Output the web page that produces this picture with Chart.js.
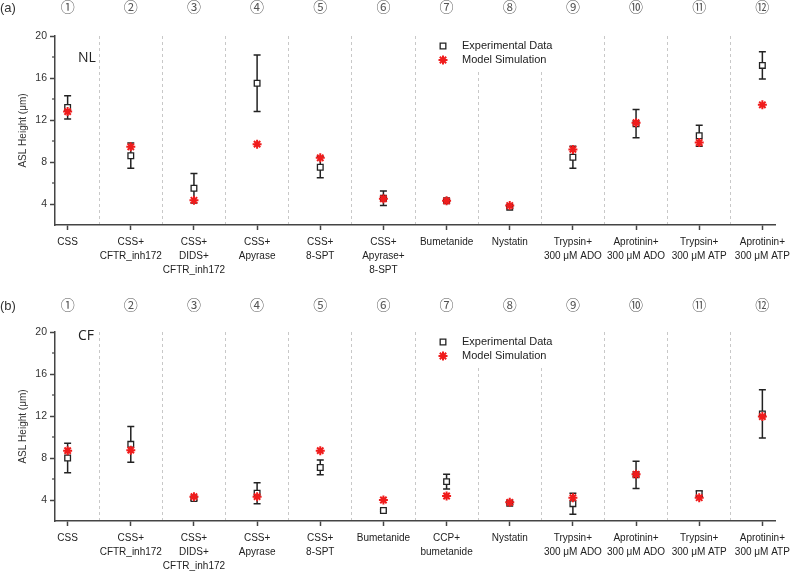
<!DOCTYPE html>
<html>
<head>
<meta charset="utf-8">
<title>ASL Height</title>
<script src="https://cdn.jsdelivr.net/npm/chart.js@4.4.0/dist/chart.umd.min.js"></script>
<style>
  html, body { margin: 0; padding: 0; background: #fff; }
  #wrap { position: relative; width: 800px; height: 575px; overflow: hidden; }
  .panel { position: absolute; left: 0; width: 800px; height: 279px; }
</style>
</head>
<body>
<div id="wrap">
  <div class="panel" style="top:0"><canvas id="chartNL" width="800" height="279"></canvas></div>
  <div class="panel" style="top:296px"><canvas id="chartCF" width="800" height="279"></canvas></div>
</div>
<script>
// 横轴类别
const labelsNL = [
  ['CSS'], ['CSS+', 'CFTR_inh172'], ['CSS+', 'DIDS+', 'CFTR_inh172'], ['CSS+', 'Apyrase'],
  ['CSS+', '8-SPT'], ['CSS+', 'Apyrase+', '8-SPT'], ['Bumetanide'], ['Nystatin'],
  ['Trypsin+', '300 μM ADO'], ['Aprotinin+', '300 μM ADO'], ['Trypsin+', '300 μM ATP'], ['Aprotinin+', '300 μM ATP']
];
const labelsCF = [
  ['CSS'], ['CSS+', 'CFTR_inh172'], ['CSS+', 'DIDS+', 'CFTR_inh172'], ['CSS+', 'Apyrase'],
  ['CSS+', '8-SPT'], ['Bumetanide'], ['CCP+', 'bumetanide'], ['Nystatin'],
  ['Trypsin+', '300 μM ADO'], ['Aprotinin+', '300 μM ADO'], ['Trypsin+', '300 μM ATP'], ['Aprotinin+', '300 μM ATP']
];
const circled = ['①', '②', '③', '④', '⑤', '⑥', '⑦', '⑧', '⑨', '⑩', '⑪', '⑫'];

// (a) NL
const expNL = [13.2, 8.6, 5.5, 15.5, 7.5, 4.55, 4.3, 3.7, 8.45, 11.65, 10.5, 17.2];
const errNL = [1.1, 1.2, 1.4, 2.7, 1.0, 0.7, 0.1, 0.1, 1.05, 1.35, 1.0, 1.3];
const simNL = [12.8, 9.45, 4.35, 9.7, 8.4, 4.5, 4.3, 3.85, 9.2, 11.75, 9.85, 13.45];

// (b) CF
const expCF = [8.0, 9.3, 4.13, 4.65, 7.1, 3.0, 5.75, 3.7, 3.65, 6.4, 4.6, 12.2];
const errCF = [1.4, 1.7, 0.15, 1.0, 0.7, 0.1, 0.7, 0.1, 1.0, 1.3, 0.25, 2.3];
const simCF = [8.7, 8.75, 4.32, 4.32, 8.7, 4.0, 4.38, 3.78, 4.22, 6.45, 4.22, 11.95];

const yTicks = [4, 8, 12, 16, 20];
const yMinorTicks = [6, 10, 14, 18];

const FONT = '"Liberation Sans", Arial, Helvetica, sans-serif';
const RED = '#f01c1c';
const INK = '#222';

function drawMarker(ctx, ds, x, y) {
  const opts = { pointStyle: ds.pointStyle, radius: ds.pointRadius, rotation: 0, borderWidth: ds.pointBorderWidth };
  ctx.save();
  ctx.fillStyle = ds.pointBackgroundColor || 'rgba(0,0,0,0)';
  ctx.strokeStyle = ds.pointBorderColor;
  ctx.lineWidth = ds.pointBorderWidth;
  if (Chart.helpers && Chart.helpers.drawPoint) {
    Chart.helpers.drawPoint(ctx, opts, x, y);
  } else {
    const r = ds.pointRadius;
    ctx.beginPath();
    if (ds.pointStyle === 'rect') {
      const s = r * Math.SQRT1_2;
      ctx.rect(x - s, y - s, 2 * s, 2 * s);
      ctx.fill();
    } else {
      const d = r * Math.SQRT1_2;
      ctx.moveTo(x - r, y); ctx.lineTo(x + r, y);
      ctx.moveTo(x, y - r); ctx.lineTo(x, y + r);
      ctx.moveTo(x - d, y - d); ctx.lineTo(x + d, y + d);
      ctx.moveTo(x - d, y + d); ctx.lineTo(x + d, y - d);
    }
    ctx.stroke();
  }
  ctx.restore();
}

// 误差棒 + 图例底色 + 标注文字
const panelDeco = {
  id: 'panelDeco',
  beforeDatasetsDraw(chart, args, opts) {
    const { ctx, chartArea, scales: { x, y } } = chart;
    // 图例白底（盖住虚线）
    ctx.save();
    ctx.fillStyle = '#fff';
    ctx.fillRect(chartArea.left + 368, chartArea.top, 140, 34);
    ctx.restore();

    // 误差棒
    const ds = chart.data.datasets[0];
    ctx.save();
    ctx.strokeStyle = INK;
    ctx.lineWidth = 1.5;
    ds.data.forEach((p, i) => {
      const e = ds.errors[i];
      const px = x.getPixelForValue(p.x);
      const top = y.getPixelForValue(p.y + e);
      const bot = y.getPixelForValue(p.y - e);
      ctx.beginPath();
      ctx.moveTo(px, top); ctx.lineTo(px, bot);
      ctx.moveTo(px - 3.5, top); ctx.lineTo(px + 3.5, top);
      ctx.moveTo(px - 3.5, bot); ctx.lineTo(px + 3.5, bot);
      ctx.stroke();
    });
    ctx.restore();
  },
  afterDraw(chart, args, opts) {
    const { ctx, chartArea, scales: { x, y } } = chart;
    ctx.save();

    // y 轴次刻度
    ctx.strokeStyle = '#444';
    ctx.lineWidth = 1.2;
    yMinorTicks.forEach(v => {
      const py = y.getPixelForValue(v);
      ctx.beginPath();
      ctx.moveTo(chartArea.left - 3, py);
      ctx.lineTo(chartArea.left, py);
      ctx.stroke();
    });

    // 图例
    ctx.font = '11px ' + FONT;
    ctx.fillStyle = INK;
    ctx.textBaseline = 'middle';
    chart.data.datasets.forEach((ds, i) => {
      const ly = chartArea.top + 10 + i * 14;
      drawMarker(ctx, ds, chartArea.left + 388, ly);
      ctx.fillStyle = INK;
      ctx.fillText(ds.label, chartArea.left + 407, ly);
    });

    // 顶部圆圈编号
    ctx.font = '14px "Noto Sans CJK JP", "Noto Sans CJK SC", sans-serif';
    ctx.fillStyle = '#555';
    ctx.textAlign = 'center';
    circled.forEach((c, i) => {
      ctx.fillText(c, x.getPixelForValue(i + 1), opts.circleY);
    });

    // (a)/(b)
    ctx.textAlign = 'left';
    ctx.fillStyle = '#333';
    ctx.font = '13px ' + FONT;
    ctx.fillText(opts.tag, 0, opts.circleY + 1);

    // NL / CF
    ctx.textBaseline = 'alphabetic';
    ctx.fillStyle = INK;
    ctx.font = '14px "Open Sans", sans-serif';
    ctx.fillText(opts.name, 78, opts.nameY);
    ctx.restore();
  }
};

function makeChart(id, labels, exp, err, sim, deco) {
  return new Chart(document.getElementById(id), {
    type: 'scatter',
    data: {
      datasets: [{
        label: 'Experimental Data',
        data: exp.map((v, i) => ({ x: i + 1, y: v })),
        errors: err,
        pointStyle: 'rect',
        pointRadius: 4,
        pointHoverRadius: 4,
        pointBackgroundColor: '#fff',
        pointBorderColor: INK,
        pointBorderWidth: 1.3,
        order: 1
      }, {
        label: 'Model Simulation',
        data: sim.map((v, i) => ({ x: i + 1, y: v })),
        pointStyle: 'star',
        pointRadius: 4.5,
        pointHoverRadius: 4.5,
        pointBackgroundColor: RED,
        pointBorderColor: RED,
        pointBorderWidth: 2,
        order: 0
      }]
    },
    options: {
      responsive: false,
      animation: false,
      events: [],
      layout: { padding: { top: 36, right: 25, left: 0, bottom: 0 } },
      plugins: {
        legend: { display: false },
        tooltip: { enabled: false },
        panelDeco: deco
      },
      scales: {
        x: {
          type: 'linear',
          min: 0.8,
          max: 12.2,
          afterBuildTicks: s => { s.ticks = labels.map((_, i) => ({ value: i + 1 })); },
          afterFit: s => { s.height = 54; },
          grid: { drawOnChartArea: false, tickLength: 5, tickColor: '#444', tickWidth: 1.5 },
          border: { color: '#444', width: 1.5 },
          ticks: {
            autoSkip: false,
            maxRotation: 0,
            padding: 5,
            color: INK,
            font: { family: FONT, size: 10, lineHeight: 1.4 },
            callback: (v, i) => labels[i]
          }
        },
        sep: {
          type: 'linear',
          position: 'top',
          min: 0.8,
          max: 12.2,
          afterBuildTicks: s => { s.ticks = labels.slice(1).map((_, i) => ({ value: i + 1.5 })); },
          afterFit: s => { s.height = 0; },
          ticks: { display: false },
          grid: { drawTicks: false, color: '#c8c8c8', lineWidth: 1 },
          border: { display: false, dash: [3, 3] }
        },
        y: {
          min: 2,
          max: 20,
          afterBuildTicks: s => { s.ticks = yTicks.map(v => ({ value: v })); },
          afterFit: s => { s.width = 55; },
          grid: { drawOnChartArea: false, tickLength: 5, tickColor: '#444', tickWidth: 1.5 },
          border: { color: '#444', width: 1.5 },
          ticks: { color: '#333', padding: 3, font: { family: FONT, size: 10.5 } },
          title: {
            display: true,
            text: 'ASL Height (μm)',
            color: '#333',
            font: { family: FONT, size: 10 },
            padding: { top: 17, bottom: 0 }
          }
        }
      }
    },
    plugins: [panelDeco]
  });
}

makeChart('chartNL', labelsNL, expNL, errNL, simNL, { tag: '(a)', name: 'NL', nameY: 62, circleY: 7 });
makeChart('chartCF', labelsCF, expCF, errCF, simCF, { tag: '(b)', name: 'CF', nameY: 44, circleY: 9 });
</script>
</body>
</html>
